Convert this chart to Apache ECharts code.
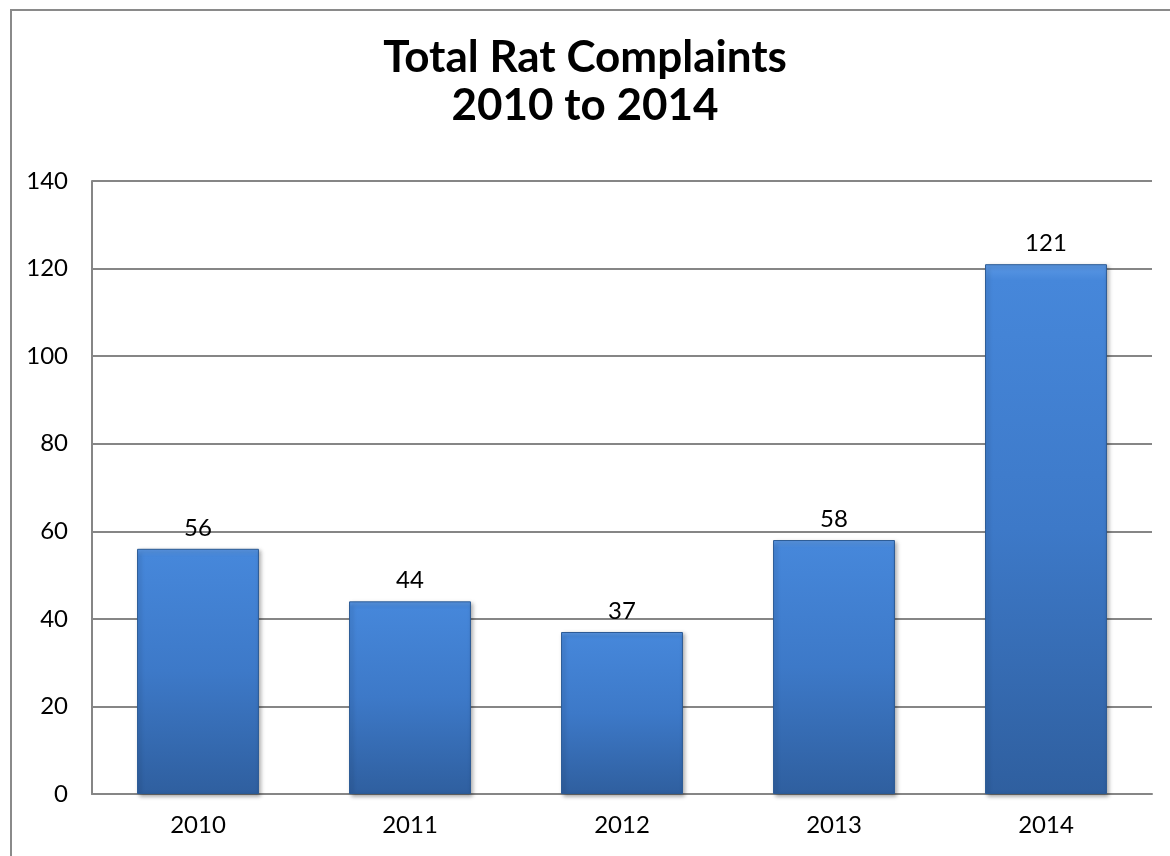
<!DOCTYPE html>
<html>
<head>
<meta charset="utf-8">
<script src="https://cdn.jsdelivr.net/npm/echarts@6/dist/echarts.min.js"></script>
<style>
html,body{margin:0;padding:0;background:#fff;}
#chart{width:1170px;height:856px;}
</style>
</head>
<body>
<div id="chart"></div>
<script>
const categories = ['2010', '2011', '2012', '2013', '2014'];
const complaints = [56, 44, 37, 58, 121];
const yTicks = [0, 20, 40, 60, 80, 100, 120, 140];
const titleText = 'Total Rat Complaints\n2010 to 2014';

const FONT = 'Lato, "Open Sans", sans-serif';
const chart = echarts.init(document.getElementById('chart'), null, {renderer: 'canvas'});
chart.setOption({
  animation: false,
  backgroundColor: '#ffffff',
  graphic: [{
    type: 'rect',
    shape: {x: 11, y: 10, width: 1300, height: 1000},
    style: {fill: 'none', stroke: '#8a8a8a', lineWidth: 2},
    z: 0
  }],
  title: {
    text: titleText,
    left: 'center',
    top: 29,
    textStyle: {
      fontFamily: FONT,
      fontWeight: 'bold',
      fontSize: 44,
      lineHeight: 48,
      color: '#000'
    }
  },
  grid: {left: 92, right: 18, top: 181, bottom: 62, containLabel: false},
  xAxis: {
    type: 'category',
    data: categories,
    axisLine: {show: true, lineStyle: {color: '#868686', width: 2}},
    axisTick: {show: false},
    axisLabel: {fontFamily: FONT, fontSize: 24, color: '#000', margin: 19}
  },
  yAxis: {
    type: 'value',
    min: yTicks[0],
    max: yTicks[yTicks.length - 1],
    interval: yTicks[1] - yTicks[0],
    axisLine: {show: true, lineStyle: {color: '#868686', width: 2}},
    axisTick: {show: false},
    splitLine: {show: true, lineStyle: {color: '#868686', width: 2}},
    axisLabel: {fontFamily: FONT, fontSize: 24, color: '#000', margin: 24}
  },
  series: [{
    type: 'bar',
    data: complaints,
    barWidth: '57.5%',
    itemStyle: {
      color: new echarts.graphic.LinearGradient(0, 0, 0, 1, [
        {offset: 0, color: '#5c99e6'},
        {offset: 0.03, color: '#4687da'},
        {offset: 0.5, color: '#3d79c8'},
        {offset: 1, color: '#2f5f9f'}
      ]),
      borderColor: '#2b5a94',
      borderWidth: 1,
      shadowColor: 'rgba(0,0,0,0.35)',
      shadowBlur: 4,
      shadowOffsetX: 2,
      shadowOffsetY: 2
    },
    label: {
      show: true,
      position: 'top',
      distance: 9,
      fontFamily: FONT,
      fontSize: 24,
      color: '#000'
    }
  }]
});
</script>
</body>
</html>
